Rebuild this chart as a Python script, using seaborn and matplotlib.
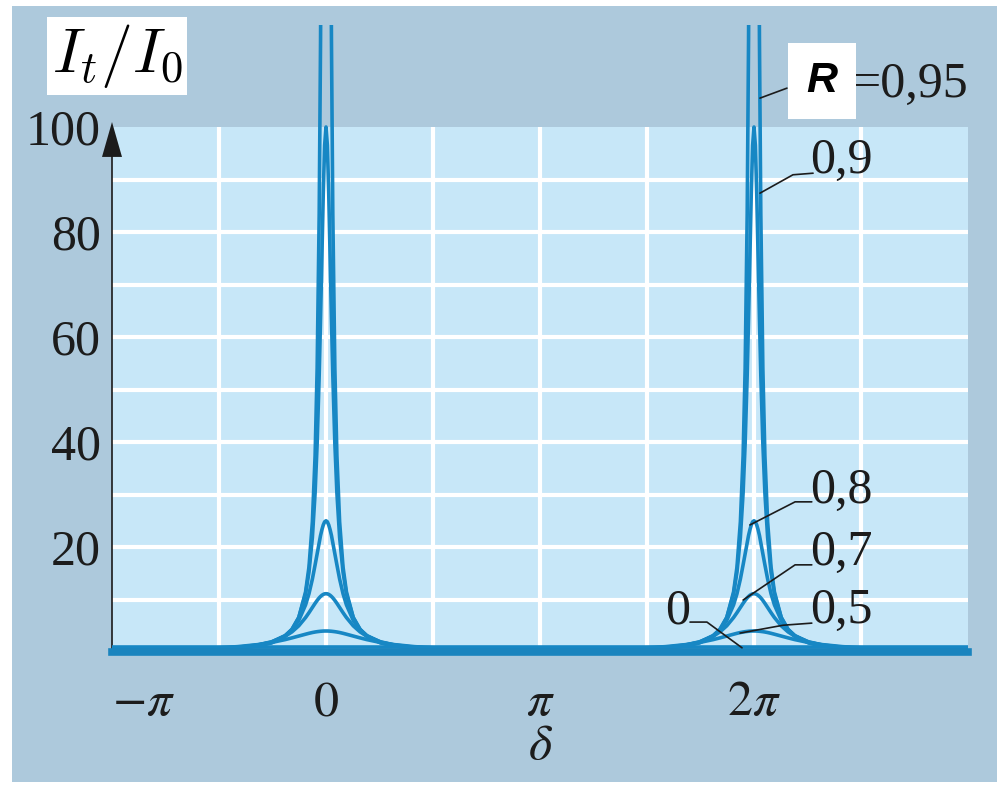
import numpy as np
import pandas as pd
import matplotlib
matplotlib.use("Agg")
import matplotlib.pyplot as plt
import seaborn as sns
from matplotlib.patches import Rectangle, Polygon

# ---------------- data ----------------
PI = np.pi
R_labels = ["0,95", "0,9", "0,8", "0,7", "0,5", "0"]
peak_centres = [0.0, 2 * PI]                       # transmission maxima
# distance from a maximum (rad), one half-profile, mirrored on both sides
offset = [0.0, 0.02, 0.04, 0.06, 0.08, 0.10, 0.13, 0.16, 0.20, 0.25,
          0.30, 0.40, 0.50, 0.60, 0.80, 1.00, 1.30, 1.60, 2.00, 2.50, PI]
I_095 = [400, 347, 249, 169, 116.6, 83.4, 54.0, 37.4, 24.8, 16.2,
         11.45, 6.56, 4.25, 2.99, 1.73, 1.14, 0.72, 0.51, 0.37, 0.29, 0.26]
I_090 = [100, 96.5, 87.4, 75.5, 63.5, 52.7, 39.7, 30.3, 21.8, 15.2,
         11.06, 6.58, 4.34, 3.08, 1.80, 1.19, 0.75, 0.54, 0.39, 0.31, 0.28]
I_080 = [25.0, 24.8, 24.2, 23.3, 22.2, 20.8, 18.7, 16.6, 13.9, 11.1,
         8.97, 6.01, 4.24, 3.13, 1.90, 1.29, 0.83, 0.59, 0.43, 0.34, 0.31]
I_070 = [11.1, 11.08, 10.97, 10.81, 10.58, 10.31, 9.82, 9.27, 8.48, 7.49,
         6.56, 4.99, 3.83, 2.99, 1.94, 1.36, 0.90, 0.65, 0.48, 0.38, 0.35]
I_050 = [4.0, 4.0, 3.99, 3.97, 3.95, 3.92, 3.87, 3.81, 3.71, 3.56,
         3.39, 3.04, 2.69, 2.36, 1.81, 1.41, 1.02, 0.78, 0.60, 0.49, 0.44]
I_000 = [1.0, 1.0, 1.0, 1.0, 1.0, 1.0, 1.0, 1.0, 1.0, 1.0,
         1.0, 1.0, 1.0, 1.0, 1.0, 1.0, 1.0, 1.0, 1.0, 1.0, 1.0]
series = [I_095, I_090, I_080, I_070, I_050, I_000]

x_tick_vals = [-PI, 0, PI, 2 * PI]
x_tick_labels = [r"$-\pi$", r"$0$", r"$\pi$", r"$2\pi$"]
y_tick_vals = [20, 40, 60, 80, 100]
y_tick_labels = ["20", "40", "60", "80", "100"]
x_grid = [-0.5 * PI, 0, 0.5 * PI, PI, 1.5 * PI, 2 * PI, 2.5 * PI]
y_grid = [10, 20, 30, 40, 50, 60, 70, 80, 90]

# ---------------- build long table ----------------
d = np.array(offset)
rows = []
for lab, vals in zip(R_labels, series):
    v = np.array(vals, dtype=float)
    for c in peak_centres:
        xs = np.concatenate([c - d[::-1], c + d[1:]])
        ys = np.concatenate([v[::-1], v[1:]])
        for xx, yy in zip(xs, ys):
            rows.append((lab, xx, yy))
df = pd.DataFrame(rows, columns=["R", "delta", "I"])

# ---------------- style ----------------
sns.set_style("white")
plt.rcParams["font.family"] = ["Liberation Serif", "DejaVu Serif"]
plt.rcParams["mathtext.fontset"] = "stix"

BG = "#adc9dc"
PANEL = "#c7e7f8"
CURVE = "#1787c4"
INK = "#1c1c1c"

fig = plt.figure(figsize=(9.97, 7.85), dpi=100, facecolor="white")
bg_rect = Rectangle((12 / 997, 3 / 785), 1 - 12 / 997, 776 / 785,
                    transform=fig.transFigure, facecolor=BG,
                    edgecolor="none", zorder=-10)
fig.patches.append(bg_rect)
ax = fig.add_axes([112 / 997, 133 / 785, 856 / 997, 525 / 785])
ax.set_zorder(1)
ax.set_facecolor(PANEL)
ax.set_xlim(-PI, 3 * PI)
ax.set_ylim(0, 100)

for yv in y_grid:
    ax.axhline(yv, color="white", lw=3, zorder=1)
for xv in x_grid:
    ax.axvline(xv, color="white", lw=3, zorder=1)

n_before = len(ax.lines)
sns.lineplot(data=df, x="delta", y="I", units="R", estimator=None, sort=False,
             color=CURVE, lw=2.6, ax=ax, legend=False, zorder=3)
clip_rect = Rectangle((0, 0), 1, 1.195, transform=ax.transAxes)
for ln in ax.lines[n_before:]:
    ln.set_clip_path(clip_rect)

# spines
for s in ["top", "right"]:
    ax.spines[s].set_visible(False)
ax.spines["left"].set_color(INK)
ax.spines["left"].set_linewidth(1.2)
ax.spines["bottom"].set_color("#1a84be")
ax.spines["bottom"].set_linewidth(5.5)
ax.spines["bottom"].set_zorder(4)

# arrow head on y axis
ax.add_patch(Polygon([(-10 / 856, 0.943), (10 / 856, 0.943), (0, 1.0095)],
                     closed=True, transform=ax.transAxes, facecolor=INK,
                     edgecolor="none", clip_on=False, zorder=6))

ax.set_xticks(x_tick_vals)
ax.set_xticklabels(x_tick_labels)
ax.set_yticks(y_tick_vals)
ax.set_yticklabels(y_tick_labels)
ax.tick_params(axis="both", length=0, labelsize=36, labelcolor=INK)
ax.tick_params(axis="x", pad=20)
ax.tick_params(axis="y", pad=8)
ax.get_xticklabels()[0].set_horizontalalignment("left")
ax.set_xlabel(r"$\delta$", fontsize=36, color=INK, labelpad=-2)
ax.set_ylabel("")

# y label in white box
fig.text(117 / 997, 1 - 56 / 785, r"$I_t/I_0$", fontsize=46, color="black",
         ha="center", va="center", math_fontfamily="cm", zorder=5,
         bbox=dict(boxstyle="square,pad=0.08", facecolor="white", edgecolor="none"))

# ---------------- curve labels ----------------
lab_kw = dict(fontsize=36, color=INK, ha="left", va="baseline",
              clip_on=False, zorder=7)
leaders = [
    [(2.028 * PI, 105.5), (2.154 * PI, 107.4)],
    [(2.028 * PI, 87.4), (2.182 * PI, 90.9), (2.276 * PI, 91.2)],
    [(1.981 * PI, 24.2), (2.192 * PI, 28.6), (2.27 * PI, 28.6)],
    [(1.949 * PI, 9.9), (2.192 * PI, 16.6), (2.27 * PI, 16.6)],
    [(1.935 * PI, 3.6), (2.136 * PI, 5.1), (2.27 * PI, 5.5)],
    [(1.701 * PI, 5.7), (1.780 * PI, 5.7), (1.944 * PI, 0.8)],
]
for pts in leaders:
    xs, ys = zip(*pts)
    ax.plot(xs, ys, color=INK, lw=1.2, clip_on=False, zorder=6)

ax.text(2.458 * PI, 105.7, "=0,95", **lab_kw)
ax.text(2.318 * PI, 108.8, "R", fontsize=31, family="Liberation Sans",
        fontweight="bold", fontstyle="italic", color="black", ha="center",
        va="center", clip_on=False, zorder=8,
        bbox=dict(boxstyle="square,pad=0.42", facecolor="white", edgecolor="none"))
ax.text(2.262 * PI, 91.2, "0,9", **lab_kw)
ax.text(2.262 * PI, 28.4, "0,8", **lab_kw)
ax.text(2.262 * PI, 16.6, "0,7", **lab_kw)
ax.text(2.262 * PI, 5.5, "0,5", **lab_kw)
ax.text(1.584 * PI, 5.5, "0", **lab_kw)

fig.savefig("out.png", dpi=100, facecolor=fig.get_facecolor())
